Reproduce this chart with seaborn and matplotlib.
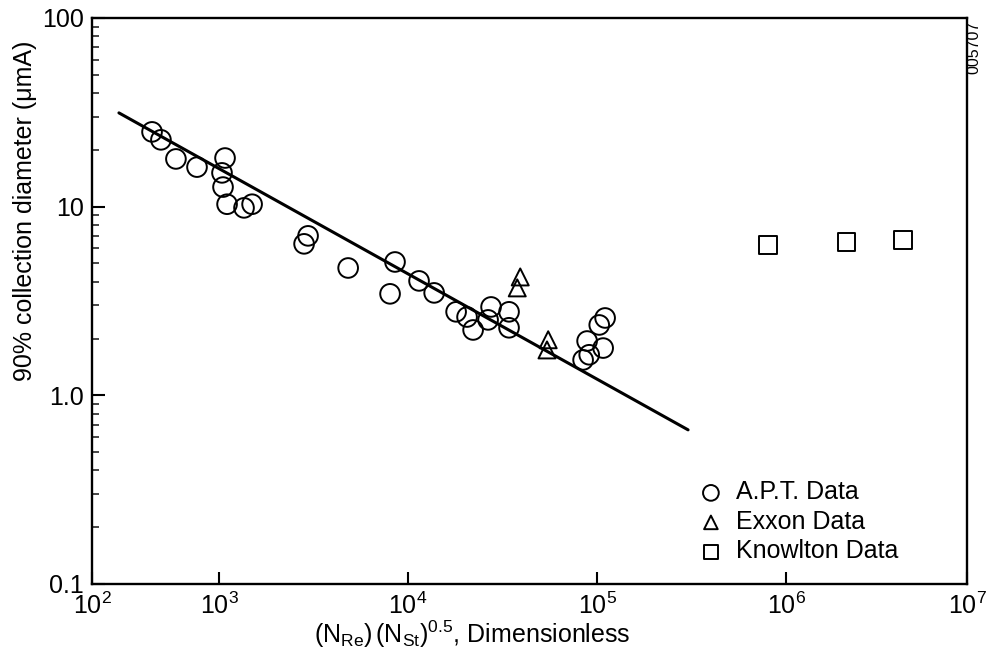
import numpy as np
import pandas as pd
import matplotlib
matplotlib.use("Agg")
import matplotlib.pyplot as plt
import matplotlib.ticker as mticker
import seaborn as sns

# values
apt_x = [297, 349, 458, 671, 1076, 1037, 1050, 1103, 1356, 1496,
         2958, 2818, 4820, 8530, 8030, 11430, 13740, 17950, 20510, 22080,
         26500, 27480, 34200, 34200, 110200, 102600, 88500, 107600, 90800, 84300]
apt_y = [24.9, 22.6, 17.9, 16.2, 18.1, 15.1, 12.7, 10.3, 9.85, 10.3,
         7.0, 6.35, 4.73, 5.09, 3.45, 4.04, 3.49, 2.77, 2.60, 2.22,
         2.51, 2.94, 2.77, 2.28, 2.57, 2.36, 1.94, 1.78, 1.64, 1.54]
exxon_x = [39200, 37800, 55100, 54300]
exxon_y = [4.24, 3.71, 1.97, 1.74]
knowlton_x = [804000, 2150000, 4430000]
knowlton_y = [6.27, 6.50, 6.67]
fit_x = [163, 302700]
fit_y = [31.4, 0.656]

x_ticks = [1e2, 1e3, 1e4, 1e5, 1e6, 1e7]
x_ticklabels = [r"$\mathregular{10^{%d}}$" % p for p in range(2, 8)]
y_ticks = [0.1, 1, 10, 100]
y_ticklabels = ["0.1", "1.0", "10", "100"]

sns.set_theme(style="ticks")
plt.rcParams["font.family"] = ["Liberation Sans", "DejaVu Sans"]
plt.rcParams["mathtext.fontset"] = "custom"
plt.rcParams["mathtext.rm"] = "Liberation Sans"
plt.rcParams["mathtext.it"] = "Liberation Sans:italic"
plt.rcParams["text.color"] = "black"
plt.rcParams["axes.labelcolor"] = "black"

fig = plt.figure(figsize=(9.89, 6.56), dpi=100)
ax = fig.add_axes([0.093, 0.1098, 0.885, 0.8628])

# the drawn figure has a short first decade (10^2-10^3) and slightly short last one
LOW, HIGH = 127 / 189, 181 / 189


def fwd(x):
    u = np.log10(np.clip(x, 1e-300, None))
    return np.where(u < 3, 3 - (3 - u) * LOW, np.where(u > 6, 6 + (u - 6) * HIGH, u))


def inv(v):
    u = np.where(v < 3, 3 - (3 - v) / LOW, np.where(v > 6, 6 + (v - 6) / HIGH, v))
    return 10.0 ** u


ax.set_xscale("function", functions=(fwd, inv))
ax.set_yscale("log")

df_apt = pd.DataFrame({"x": apt_x, "y": apt_y})
df_exx = pd.DataFrame({"x": exxon_x, "y": exxon_y})
df_kno = pd.DataFrame({"x": knowlton_x, "y": knowlton_y})
df_fit = pd.DataFrame({"x": fit_x, "y": fit_y})

sns.lineplot(data=df_fit, x="x", y="y", ax=ax, color="black", linewidth=2.2)
common = dict(facecolor="none", edgecolor="black", linewidth=1.4)
sns.scatterplot(data=df_apt, x="x", y="y", ax=ax, marker="o", s=200,
                label="A.P.T. Data", **common)
sns.scatterplot(data=df_exx, x="x", y="y", ax=ax, marker="^", s=150,
                label="Exxon Data", **common)
sns.scatterplot(data=df_kno, x="x", y="y", ax=ax, marker="s", s=160,
                label="Knowlton Data", **common)

ax.set_xlim(1e2, 1e7)
ax.set_ylim(0.1, 100)
ax.xaxis.set_major_locator(mticker.FixedLocator(x_ticks))
ax.xaxis.set_major_formatter(mticker.FixedFormatter(x_ticklabels))
ax.xaxis.set_minor_locator(mticker.NullLocator())
ax.yaxis.set_major_locator(mticker.FixedLocator(y_ticks))
ax.yaxis.set_major_formatter(mticker.FixedFormatter(y_ticklabels))
ax.yaxis.set_minor_locator(mticker.LogLocator(base=10, subs=np.arange(2, 10)))
ax.yaxis.set_minor_formatter(mticker.NullFormatter())

ax.tick_params(axis="both", which="major", direction="in", length=9, width=1.5,
               labelsize=18, colors="black")
ax.tick_params(axis="x", which="major", pad=6)
ax.tick_params(axis="y", which="major", pad=6)
ax.tick_params(axis="y", which="minor", direction="in", length=5, width=1.2)
for side in ["left", "bottom", "right", "top"]:
    ax.spines[side].set_visible(True)
    ax.spines[side].set_linewidth(1.7)
    ax.spines[side].set_color("black")

ax.set_xlabel(r"$\mathregular{(N_{Re})\,(N_{St})^{0.5}}$, Dimensionless", fontsize=18)
ax.set_ylabel("90% collection diameter (μmA)", fontsize=18)
ax.xaxis.set_label_coords(0.435, -0.062)
ax.yaxis.set_label_coords(-0.063, 0.66)

ax.legend(loc="upper left", bbox_to_anchor=(0.68, 0.205), frameon=False,
          fontsize=18, borderpad=0, handlelength=0.9, handletextpad=0.55,
          labelspacing=0.22, markerscale=0.8)

fig.text(0.985, 0.928, "005707", rotation=90, fontsize=11.5, ha="center", va="center")

fig.savefig("out.png", dpi=100)
